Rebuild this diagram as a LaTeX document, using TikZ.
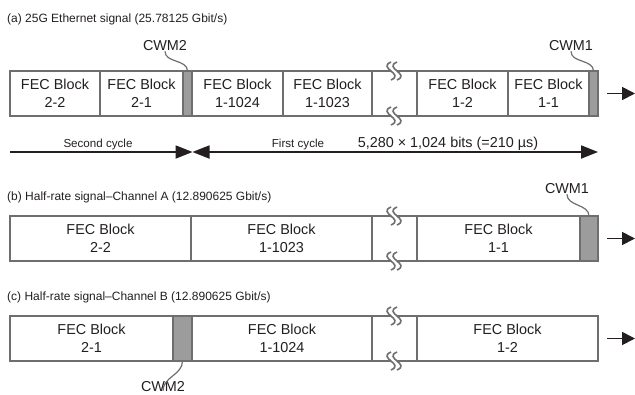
\documentclass[tikz,border=0pt]{standalone}
\usepackage{fontspec}
\setmainfont{Liberation Sans}
\usetikzlibrary{arrows.meta}
\definecolor{frame}{HTML}{6E6E6E}
\definecolor{cwmfill}{HTML}{9C9C9C}
\definecolor{ink}{HTML}{231F20}
\newcommand\Block[6][]{%
    \node[blk,#1,minimum width={(#4-#3)*1pt}] (#2) at (#3,#5) {#6};%
}
\newcommand\Gap[2]{%
    \fill[white] ({#1-4},{#2-9}) .. controls ({#1-18},{#2-3}) and ({#1+10},{#2+3}) .. ({#1-4},{#2+9})
        -- ({#1+2},{#2+9}) .. controls ({#1+16},{#2+3}) and ({#1-12},{#2-3}) .. ({#1+2},{#2-9}) -- cycle;%
    \draw[brk] ({#1-4},{#2-9}) .. controls ({#1-18},{#2-3}) and ({#1+10},{#2+3}) .. ({#1-4},{#2+9});%
    \draw[brk] ({#1+2},{#2-9}) .. controls ({#1-12},{#2-3}) and ({#1+16},{#2+3}) .. ({#1+2},{#2+9});%
}
\tikzset{
    cyctip/.tip={Triangle[length=17pt,width=13pt]},
    exittip/.tip={Triangle[length=13pt,width=13pt]},
    blk/.style={draw=frame, fill=white, line width=1.8pt, minimum height=45pt,
        inner sep=0pt, outer sep=0pt, anchor=north west, align=center, text=ink,
        font=\fontsize{14.4}{18}\selectfont},
    cwm/.style={fill=cwmfill},
    brk/.style={draw=frame, line width=1.6pt},
    ttl/.style={anchor=base west, inner sep=0pt, text=ink, font=\fontsize{12}{14}\selectfont},
    lbl/.style={anchor=base, inner sep=1pt, text=ink, font=\fontsize{14.4}{17}\selectfont},
    cyclbl/.style={anchor=base, inner sep=0pt, text=ink, font=\fontsize{11.6}{13}\selectfont},
    lead/.style={draw=frame, line width=1.2pt},
    cyc/.style={line width=1.8pt, ink},
    exitarr/.style={line width=1.8pt, ink, -exittip},
}
\begin{document}
\begin{tikzpicture}[x=1pt,y=-1pt]
\useasboundingbox (0,0) rectangle (635,394);

\node[ttl] (ttlA) at (7,22) {(a) 25G Ethernet signal (25.78125 Gbit/s)};
\Block{a22}{10}{100}{71}{FEC Block\\2-2}
\Block{a21}{100}{183}{71}{FEC Block\\2-1}
\Block[cwm]{cwmA2}{183}{192}{71}{}
\Block{a1024}{192}{283}{71}{FEC Block\\1-1024}
\Block{a1023}{283}{372}{71}{FEC Block\\1-1023}
\Block{gapA}{372}{417}{71}{}
\Block{a12}{417}{508}{71}{FEC Block\\1-2}
\Block{a11}{508}{589}{71}{FEC Block\\1-1}
\Block[cwm]{cwmA1}{589}{598}{71}{}

\node[ttl] (ttlB) at (7,200) {(b) Half-rate signal--Channel A (12.890625 Gbit/s)};
\Block{b22}{10}{191}{216}{FEC Block\\2-2}
\Block{b1023}{191}{372}{216}{FEC Block\\1-1023}
\Block{gapB}{372}{417}{216}{}
\Block{b11}{417}{580}{216}{FEC Block\\1-1}
\Block[cwm]{cwmB1}{580}{598}{216}{}

\node[ttl] (ttlC) at (7,300) {(c) Half-rate signal--Channel B (12.890625 Gbit/s)};
\Block{c21}{10}{173}{316}{FEC Block\\2-1}
\Block[cwm]{cwmC2}{173}{192}{316}{}
\Block{c1024}{192}{372}{316}{FEC Block\\1-1024}
\Block{gapC}{372}{417}{316}{}
\Block{c12}{417}{598}{316}{FEC Block\\1-2}

\foreach \y in {71,116,216,261,316,361} {\Gap{395}{\y}}

\node[lbl] (lblA2) at (165,50) {CWM2};
\node[lbl] (lblA1) at (571,50) {CWM1};
\node[lbl] (lblB1) at (567,193) {CWM1};
\node[lbl] (lblC2) at (163,391) {CWM2};
\draw[lead] (lblA2) to[out=-90,in=90] (cwmA2.north);
\draw[lead] (lblA1) to[out=-90,in=90] (cwmA1.north);
\draw[lead] (lblB1) to[out=-90,in=90] (cwmB1.north);
\draw[lead] ([yshift=-11pt]lblC2.north) to[out=90,in=-90] (cwmC2.south);

\coordinate (cycL) at (10,152);
\coordinate (cycM) at (192.5,152);
\coordinate (cycR) at (598,152);
\draw[cyc, -cyctip] (cycL) -- (cycM);
\draw[cyc, cyctip-cyctip] (cycM) -- (cycR);
\node[cyclbl] (secnd) at (98,147) {Second cycle};
\node[cyclbl] (first) at (298,147) {First cycle};
\node[lbl, inner sep=0pt] (bits) at (448,147) {5,280 × 1,024 bits (=210 µs)};

\coordinate (exA0) at (607,93.5);
\coordinate (exA1) at (635,93.5);
\coordinate (exB0) at (607,238.5);
\coordinate (exB1) at (635,238.5);
\coordinate (exC0) at (607,338.5);
\coordinate (exC1) at (635,338.5);
\draw[exitarr] (exA0) -- (exA1);
\draw[exitarr] (exB0) -- (exB1);
\draw[exitarr] (exC0) -- (exC1);
\end{tikzpicture}
\end{document}
